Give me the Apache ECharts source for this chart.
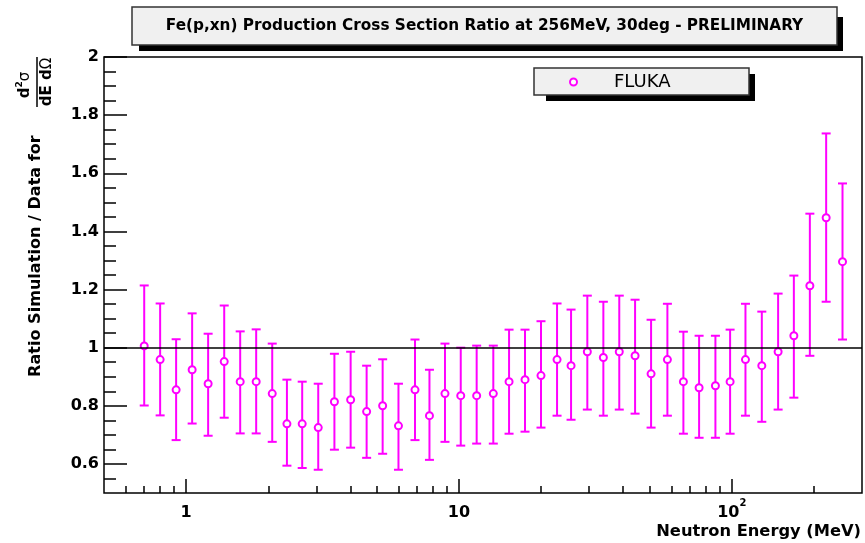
<!DOCTYPE html>
<html><head><meta charset="utf-8">
<script src="https://cdn.jsdelivr.net/npm/echarts@6/dist/echarts.min.js"></script>
<style>html,body{margin:0;padding:0;background:#fff}#c{width:865px;height:543px}</style>
</head><body><div id="c"></div>
<script>
// ---- data ----
const energy = [0.702,0.803,0.919,1.052,1.204,1.379,1.578,1.806,2.068,2.341,2.663,3.049,3.495,4.008,4.587,5.251,6.001,6.899,7.795,8.885,10.15,11.61,13.36,15.26,17.46,19.98,22.88,25.75,29.54,33.82,38.68,44.20,50.59,58.06,66.45,75.87,87.07,98.56,112.2,128.8,147.8,168.8,193.2,221.7,254.5];
const ratio  = [1.006,0.959,0.855,0.924,0.876,0.952,0.883,0.883,0.842,0.738,0.738,0.725,0.814,0.821,0.780,0.800,0.731,0.855,0.766,0.842,0.835,0.835,0.842,0.883,0.890,0.904,0.959,0.938,0.986,0.966,0.986,0.972,0.910,0.959,0.883,0.862,0.869,0.883,0.959,0.938,0.986,1.041,1.213,1.447,1.296];
const lower  = [0.801,0.767,0.682,0.739,0.697,0.759,0.705,0.705,0.676,0.594,0.586,0.580,0.649,0.656,0.621,0.635,0.580,0.682,0.614,0.676,0.663,0.670,0.670,0.704,0.711,0.725,0.766,0.752,0.787,0.766,0.787,0.773,0.725,0.766,0.704,0.690,0.690,0.704,0.766,0.745,0.787,0.828,0.972,1.158,1.028];
const upper  = [1.214,1.152,1.029,1.118,1.048,1.145,1.056,1.063,1.014,0.890,0.883,0.876,0.979,0.986,0.938,0.960,0.876,1.028,0.924,1.014,1.000,1.007,1.007,1.062,1.062,1.091,1.152,1.131,1.179,1.158,1.179,1.165,1.096,1.151,1.055,1.041,1.041,1.062,1.151,1.124,1.186,1.248,1.461,1.737,1.565];
const referenceLevel = [1];

const xMajorTicks = [1,10,100];
const xMinorTicks = [0.6,0.7,0.8,0.9,2,3,4,5,6,7,8,9,20,30,40,50,60,70,80,90,200];
const yMajorTicks = [0.6,0.8,1.0,1.2,1.4,1.6,1.8,2.0];
const yMinorTicks = [0.55,0.65,0.7,0.75,0.85,0.9,0.95,1.05,1.1,1.15,1.25,1.3,1.35,1.45,1.5,1.55,1.65,1.7,1.75,1.85,1.9,1.95];

const titleText = 'Fe(p,xn) Production Cross Section Ratio at 256MeV, 30deg - PRELIMINARY';
const seriesName = 'FLUKA';
const xName = 'Neutron Energy (MeV)';
const yName = 'Ratio Simulation / Data for';

// ---- helpers ----
const FAM = 'DejaVu Sans';
function textWidth(t, size, weight) {
  const c = document.createElement('canvas').getContext('2d');
  c.font = (weight || 'bold') + ' ' + size + 'px "' + FAM + '"';
  return c.measureText(t).width;
}
const titleSize = 13 * 638 / textWidth(titleText, 13);
const ySize = 16 * 242 / textWidth(yName, 16);
const xNameSize = 16 * 205 / textWidth(xName, 16);

const MAG = '#ff00ff';
const errData = energy.map((e, i) => [e, lower[i], upper[i]]);
const ptData = energy.map((e, i) => [e, ratio[i]]);

const chart = echarts.init(document.getElementById('c'), null, {renderer: 'canvas'});
const tickLine = {color: '#000', width: 1.5};
const labelFont = {fontFamily: FAM, fontWeight: 'bold', fontSize: 16, color: '#000'};

chart.setOption({
  animation: false,
  backgroundColor: '#fff',
  title: {
    text: titleText, left: 484.5, top: 17, textAlign: 'center', padding: 0,
    textStyle: {fontFamily: FAM, fontWeight: 'bold', fontSize: titleSize, color: '#000', lineHeight: 18}
  },
  legend: {
    data: [seriesName], selectedMode: false, left: 569, top: 72, padding: 0,
    itemWidth: 7, itemHeight: 7, icon: 'circle',
    itemStyle: {color: '#fff', borderColor: MAG, borderWidth: 2},
    textStyle: {fontFamily: FAM, fontSize: 18, color: '#000', lineHeight: 20, padding: [0, 0, 0, 32]}
  },
  grid: {left: 104, top: 57, width: 758, height: 436, containLabel: false, outerBoundsMode: 'none',
         show: true, borderColor: '#000', borderWidth: 1.5, backgroundColor: 'transparent'},
  xAxis: [
    {
      type: 'log', logBase: 10, min: 0.5, max: 300, position: 'bottom',
      axisLine: {show: false}, splitLine: {show: false}, minorTick: {show: false},
      axisTick: {show: true, inside: true, length: 14, customValues: xMajorTicks, lineStyle: tickLine},
      axisLabel: {
        customValues: xMajorTicks, margin: 5,
        formatter: v => {
          const r = Math.round(v);
          return r >= 100 ? '{n|10}{s|2}' : '{n|' + r + '}';
        },
        rich: {
          n: {fontFamily: FAM, fontWeight: 'bold', fontSize: 16, color: '#000', lineHeight: 30},
          s: {fontFamily: FAM, fontWeight: 'bold', fontSize: 10, color: '#000', lineHeight: 10, verticalAlign: 'top'}
        }
      }
    },
    {
      type: 'log', logBase: 10, min: 0.5, max: 300, position: 'bottom',
      axisLine: {show: false}, splitLine: {show: false}, axisLabel: {show: false},
      axisTick: {show: true, inside: true, length: 7, customValues: xMinorTicks, lineStyle: tickLine}
    }
  ],
  yAxis: [
    {
      type: 'value', min: 0.5, max: 2, position: 'left',
      axisLine: {show: false}, splitLine: {show: false},
      axisTick: {show: true, inside: true, length: 23, customValues: yMajorTicks, lineStyle: tickLine},
      axisLabel: Object.assign({customValues: yMajorTicks, margin: 5, formatter: v => String(+(+v).toFixed(2))}, labelFont)
    },
    {
      type: 'value', min: 0.5, max: 2, position: 'left',
      axisLine: {show: false}, splitLine: {show: false}, axisLabel: {show: false},
      axisTick: {show: true, inside: true, length: 12, customValues: yMinorTicks, lineStyle: tickLine}
    }
  ],
  series: [
    {
      type: 'custom', name: 'errors', xAxisIndex: 0, yAxisIndex: 0, silent: true, z: 2,
      data: errData, encode: {x: 0, y: [1, 2]},
      renderItem: (params, api) => {
        const x = api.value(0);
        const top = api.coord([x, api.value(2)]);
        const bot = api.coord([x, api.value(1)]);
        const hw = 4.5;
        const st = {stroke: MAG, lineWidth: 2, fill: null};
        return {type: 'group', children: [
          {type: 'line', shape: {x1: top[0], y1: top[1], x2: bot[0], y2: bot[1]}, style: st},
          {type: 'line', shape: {x1: top[0] - hw, y1: top[1], x2: top[0] + hw, y2: top[1]}, style: st},
          {type: 'line', shape: {x1: bot[0] - hw, y1: bot[1], x2: bot[0] + hw, y2: bot[1]}, style: st}
        ]};
      },
      markLine: {
        silent: true, symbol: ['none', 'none'], label: {show: false},
        lineStyle: {color: '#000', width: 1.6, type: 'solid'},
        data: referenceLevel.map(v => ({yAxis: v}))
      }
    },
    {
      type: 'scatter', name: seriesName, xAxisIndex: 0, yAxisIndex: 0, z: 3,
      data: ptData, symbol: 'circle', symbolSize: 7,
      itemStyle: {color: '#fff', borderColor: MAG, borderWidth: 2, opacity: 1}
    }
  ],
  graphic: [
    {type: 'rect', z: 0, shape: {x: 139, y: 17, width: 704, height: 34}, style: {fill: '#000'}},
    {type: 'rect', z: 0, shape: {x: 132, y: 7, width: 705, height: 38}, style: {fill: '#f0f0f0', stroke: '#333', lineWidth: 1.5}},
    {type: 'rect', z: 0, shape: {x: 546, y: 74, width: 209, height: 27}, style: {fill: '#000'}},
    {type: 'rect', z: 0, shape: {x: 534, y: 68, width: 215, height: 27}, style: {fill: '#f0f0f0', stroke: '#333', lineWidth: 1.5}},
    {type: 'text', x: 861, y: 532, style: {text: xName, fontFamily: FAM, fontWeight: 'bold', fontSize: xNameSize, fill: '#000', align: 'right', verticalAlign: 'middle'}},
    {
      type: 'group', x: 36, y: 377, rotation: Math.PI / 2,
      children: [
        {type: 'text', x: 0, y: 0, style: {text: yName, fontFamily: FAM, fontWeight: 'bold', fontSize: ySize, fill: '#000', align: 'left', verticalAlign: 'middle'}},
        {type: 'line', shape: {x1: 270, y1: 1, x2: 320, y2: 1}, style: {stroke: '#000', lineWidth: 1.5}},
        {type: 'text', x: 292, y: -0.5, style: {
          text: '{d|d}{s|2}{g|σ}', align: 'center', verticalAlign: 'bottom', fill: '#000',
          rich: {
            d: {fontFamily: FAM, fontWeight: 'bold', fontSize: 15, fill: '#000', lineHeight: 20},
            s: {fontFamily: FAM, fontWeight: 'bold', fontSize: 9, fill: '#000', lineHeight: 9, verticalAlign: 'top'},
            g: {fontFamily: FAM, fontWeight: 'normal', fontSize: 15, fill: '#000', lineHeight: 20}
          }
        }},
        {type: 'text', x: 295, y: 3.5, style: {
          text: '{d|dE d}{g|Ω}', align: 'center', verticalAlign: 'top', fill: '#000',
          rich: {
            d: {fontFamily: FAM, fontWeight: 'bold', fontSize: 15, fill: '#000'},
            g: {fontFamily: FAM, fontWeight: 'normal', fontSize: 15, fill: '#000'}
          }
        }}
      ]
    }
  ]
});
</script>
</body></html>
